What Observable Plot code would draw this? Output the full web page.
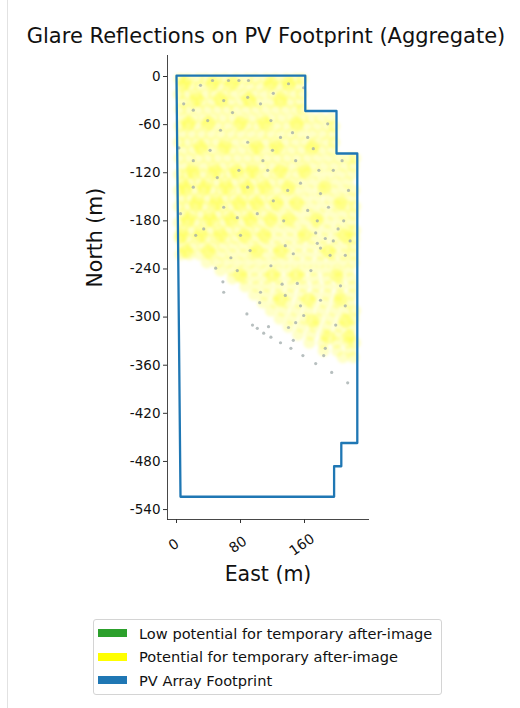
<!DOCTYPE html>
<html>
<head>
<meta charset="utf-8">
<script src="https://cdn.jsdelivr.net/npm/d3@7"></script>
<script src="https://cdn.jsdelivr.net/npm/@observablehq/plot@0.6"></script>
<style>
  html, body { margin: 0; padding: 0; background: #fff; }
  #page { position: relative; width: 520px; height: 708px; font-family: "DejaVu Sans", sans-serif; color: #111; overflow: hidden; }
  #edge { position: absolute; left: 7px; top: 0; width: 1px; height: 708px; background: #e2e2e2; }
  #title { height: 55px; position: relative; }
  #title span { position: absolute; left: 0; width: 532px; top: 26px; text-align: center; font-size: 21px; line-height: 21px; white-space: nowrap; }
  #chart svg { display: block; }
  #legend { position: absolute; left: 93px; top: 619px; width: 347px; height: 74px; border: 1px solid #d4d4d4; border-radius: 3px; font-size: 14.6px; }
  .row { position: absolute; left: 4px; height: 20px; display: flex; align-items: center; white-space: nowrap; }
  .sw { width: 29px; height: 8px; margin-right: 12px; }
</style>
</head>
<body>
<div id="page">
  <div id="edge"></div>
  <div id="title"><span>Glare Reflections on PV Footprint (Aggregate)</span></div>
  <div id="chart"></div>
  <div id="legend"></div>
</div>
<script>
// ---- data (metres) ----
const xTicks = [0, 80, 160];
const yTicks = [0, -60, -120, -180, -240, -300, -360, -420, -480, -540];

// PV array footprint outline
const footprintEast  = [0, 161, 161, 200, 200, 226, 226, 206, 206, 197, 197, 5, 0];
const footprintNorth = [1, 1, -43, -43, -96, -96, -457, -457, -486, -486, -524, -524, 1];

// "Potential for temporary after-image" glare reflections: [north, [east...]]
const potentialRows = [
  [-3,   [4, 14, 27, 37, 50, 61, 75, 88, 99, 112, 124, 137, 149, 157]],
  [-12,  [7, 18, 29, 43, 55, 66, 79, 92, 104, 116, 129, 141, 153]],
  [-22,  [3, 12, 24, 36, 47, 60, 71, 84, 96, 109, 121, 134, 146, 156]],
  [-32,  [8, 20, 31, 44, 57, 68, 81, 93, 103, 118, 130, 142, 154]],
  [-41,  [5, 15, 27, 39, 51, 63, 74, 87, 99, 111, 124, 136, 149, 157]],
  [-52,  [9, 21, 34, 46, 58, 70, 83, 95, 107, 119, 131, 144, 157, 168, 180, 193]],
  [-62,  [4, 14, 26, 38, 52, 64, 77, 89, 101, 114, 126, 138, 151, 163, 176, 189, 197]],
  [-72,  [7, 19, 31, 43, 56, 68, 80, 93, 106, 117, 130, 143, 155, 170, 183, 195]],
  [-82,  [3, 13, 25, 37, 49, 61, 73, 86, 98, 111, 123, 136, 148, 161, 174, 187, 197]],
  [-92,  [8, 20, 32, 44, 57, 69, 82, 94, 105, 119, 131, 144, 156, 168, 181, 194]],
  [-102, [4, 16, 28, 40, 51, 64, 76, 89, 101, 113, 126, 138, 151, 163, 176, 190, 203, 216, 223]],
  [-112, [9, 21, 34, 46, 58, 70, 83, 95, 108, 120, 133, 145, 158, 171, 184, 197, 210, 221]],
  [-122, [3, 12, 22, 33, 44, 55, 66, 77, 89, 100, 112, 124, 137, 150, 163, 177, 192, 206, 219]],
  [-132, [7, 17, 28, 39, 50, 61, 72, 84, 95, 107, 119, 131, 144, 157, 171, 186, 200, 214]],
  [-142, [3, 12, 23, 34, 45, 56, 67, 79, 90, 102, 114, 126, 139, 152, 166, 181, 196, 210, 222]],
  [-152, [6, 16, 27, 38, 49, 60, 71, 83, 94, 106, 118, 131, 145, 160, 175, 191, 205, 219]],
  [-162, [3, 13, 24, 35, 46, 57, 68, 80, 91, 103, 115, 128, 142, 156, 170, 185, 200, 214, 223]],
  [-172, [8, 19, 30, 41, 52, 63, 75, 87, 98, 110, 123, 137, 151, 166, 180, 195, 209, 221]],
  [-182, [3, 13, 25, 36, 47, 58, 70, 82, 94, 106, 119, 133, 147, 161, 176, 190, 205, 218]],
  [-192, [7, 18, 30, 42, 53, 65, 77, 90, 102, 115, 129, 143, 157, 172, 187, 201, 215, 223]],
  [-202, [4, 14, 26, 38, 50, 62, 74, 87, 100, 113, 127, 141, 155, 170, 184, 199, 213, 222]],
  [-212, [8, 20, 33, 46, 58, 71, 84, 97, 111, 125, 139, 153, 168, 182, 197, 211, 221]],
  [-222, [5, 16, 29, 43, 56, 69, 83, 96, 110, 124, 138, 152, 166, 181, 195, 209, 220]],
  [-232, [38, 51, 64, 78, 92, 106, 120, 134, 149, 164, 179, 194, 208, 221]],
  [-242, [55, 69, 83, 97, 111, 126, 141, 156, 171, 186, 201, 215]],
  [-252, [70, 84, 98, 112, 127, 142, 157, 172, 188, 203, 218]],
  [-262, [86, 100, 114, 129, 144, 159, 175, 190, 205, 220]],
  [-272, [97, 111, 126, 141, 157, 173, 188, 204, 219]],
  [-282, [108, 123, 138, 154, 169, 185, 201, 216]],
  [-292, [118, 133, 149, 165, 181, 197, 212, 223]],
  [-302, [129, 144, 160, 176, 192, 208, 221]],
  [-312, [140, 156, 172, 188, 204, 218]],
  [-322, [152, 168, 185, 201, 216]],
  [-332, [166, 183, 200, 214, 223]],
  [-342, [184, 201, 217]],
  [-350, [208, 221]]
];
// brighter, denser glare patches: [north, [east...]]
const potentialDenseRows = [
  [-8,   [10, 45, 70, 118, 140]],
  [-28,  [25, 55, 90, 130]],
  [-58,  [15, 40, 80, 110, 150]],
  [-88,  [30, 60, 100, 125, 170]],
  [-118, [20, 48, 75, 95, 130, 160]],
  [-138, [10, 35, 62, 88, 110, 140, 185]],
  [-158, [25, 50, 78, 100, 125, 150, 205]],
  [-178, [15, 42, 68, 92, 118, 140, 175]],
  [-198, [6, 30, 55, 85, 110, 160, 210]],
  [-218, [12, 40, 100, 130, 190]],
  [-248, [80, 120, 150, 200]],
  [-278, [130, 165, 205]],
  [-305, [170, 212]],
  [-325, [190, 215]]
];
// "Low potential for temporary after-image" points: [east, north]
const lowPotential = [
  [45,-5],[65,-5],[78,-5],[90,-5],[105,-34],[118,-55],[70,-45],[21,-42],[55,-67],[89,-82],
  [108,-105],[114,-117],[145,-70],[149,-105],[164,-76],[178,-117],[196,-117],[21,-138],[59,-163],[76,-176],
  [101,-171],[121,-155],[139,-142],[164,-167],[176,-180],[196,-205],[209,-180],[215,-142],[5,-171],[34,-190],
  [3,-89],[21,-105],[42,-92],[89,-26],[121,-21],[140,-9],[159,-14],[30,-11],[59,-30],[9,-34],
  [39,-55],[130,-76],[155,-133],[180,-146],[190,-163],[134,-180],[89,-138],[51,-126],[78,-117],[120,-92],
  [171,-90],[207,-105],[189,-59],[24,-198],[92,-217],[118,-236],[136,-211],[168,-242],[205,-261],[211,-286],
  [199,-310],[180,-279],[155,-286],[80,-198],[174,-195],[186,-202],[202,-190],[211,-223],[192,-223],[180,-214],
  [217,-205],[49,-239],[58,-256],[59,-269],[68,-226],[76,-242],[88,-296],[95,-310],[101,-314],[115,-312],
  [105,-269],[104,-282],[118,-325],[130,-332],[136,-273],[151,-258],[149,-307],[158,-348],[174,-358],[184,-348],
  [186,-339],[194,-369],[214,-382],[146,-221],[176,-208],[109,-320],[143,-339],[159,-298],[140,-313],[146,-329],
  [132,-259]
];

// ---- build tables ----
const potential = potentialRows.flatMap(([n, es]) => es.map(e => ({east: e, north: n})));
const potentialDense = potentialDenseRows.flatMap(([n, es]) => es.map(e => ({east: e, north: n})));
const low = lowPotential.map(([e, n]) => ({east: e, north: n}));
const footprint = footprintEast.map((e, i) => ({east: e, north: footprintNorth[i]}));

const chart = Plot.plot({
  width: 520,
  height: 545,
  marginLeft: 167,
  marginRight: 152,
  marginTop: 0,
  marginBottom: 81,
  style: {fontFamily: "DejaVu Sans, sans-serif", fontSize: "13.5px", color: "#111", background: "transparent"},
  x: {domain: [-11.25, 240]},
  y: {domain: [-552.4, 26.2]},
  marks: [
    Plot.dot(potential, {x: "east", y: "north", r: 6, fill: "#ffff00", fillOpacity: 0.22, stroke: null, className: "glare-soft"}),
    Plot.dot(potentialDense, {x: "east", y: "north", r: 7, fill: "#ffff00", fillOpacity: 0.3, stroke: null, className: "glare-soft"}),
    Plot.dot(low, {x: "east", y: "north", r: 1.6, fill: "#9fa9aa", fillOpacity: 0.75, stroke: null}),
    Plot.line(footprint, {x: "east", y: "north", stroke: "#1f77b4", strokeWidth: 2.3, curve: "linear"}),
    Plot.frame({anchor: "left", stroke: "#333", strokeWidth: 0.9}),
    Plot.frame({anchor: "bottom", stroke: "#333", strokeWidth: 0.9}),
    Plot.axisY({ticks: yTicks, tickFormat: d => String(d), tickSize: 4, tickPadding: 3, label: null, stroke: "#333", fontSize: 13.5}),
    Plot.axisX({ticks: xTicks, tickFormat: () => "", tickSize: 4, label: null, stroke: "#333"}),
    Plot.text(xTicks, {x: d => d, frameAnchor: "bottom", dy: 29, rotate: -35, text: d => String(d), fontSize: 14, textAnchor: "middle", fill: "#111"}),
    Plot.text(["East (m)"], {frameAnchor: "bottom", dy: 61, text: d => d, fontSize: 20.5, fill: "#111"}),
    Plot.text(["North (m)"], {frameAnchor: "left", dx: -72, rotate: -90, text: d => d, fontSize: 20.5, fill: "#111"})
  ]
});
// soften the glare markers
chart.querySelectorAll("g[aria-label='dot']").forEach((g, i) => {
  if (i < 2) g.style.filter = "blur(1.6px)";
});
document.getElementById("chart").appendChild(chart);

// ---- legend ----
const legendItems = [
  {label: "Low potential for temporary after-image", color: "#2ca02c"},
  {label: "Potential for temporary after-image", color: "#ffff00"},
  {label: "PV Array Footprint", color: "#1f77b4"}
];
const legend = document.getElementById("legend");
legendItems.forEach((d, i) => {
  const row = document.createElement("div");
  row.className = "row";
  row.style.top = (3 + i * 23.5) + "px";
  const sw = document.createElement("div");
  sw.className = "sw";
  sw.style.background = d.color;
  const tx = document.createElement("span");
  tx.textContent = d.label;
  row.appendChild(sw);
  row.appendChild(tx);
  legend.appendChild(row);
});
</script>
</body>
</html>
